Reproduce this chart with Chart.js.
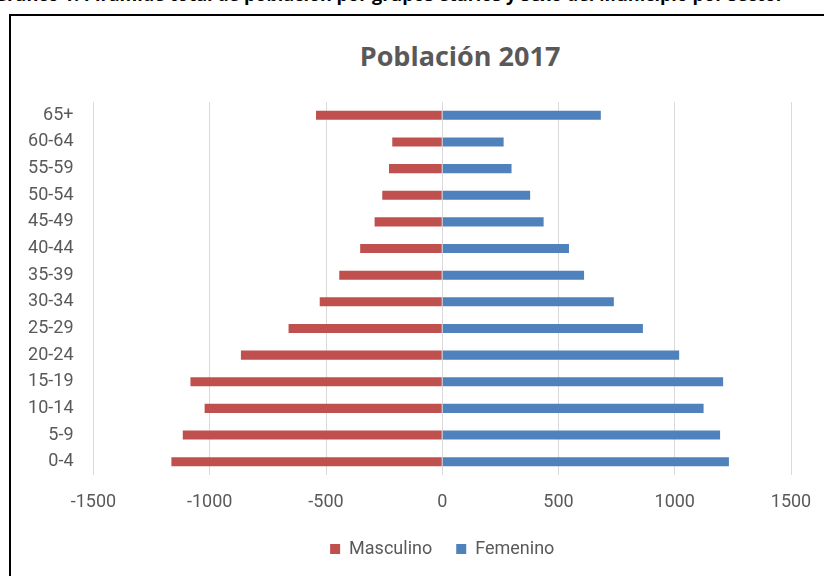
<!DOCTYPE html>
<html>
<head>
<meta charset="utf-8">
<script src="https://cdn.jsdelivr.net/npm/chart.js@4/dist/chart.umd.min.js"></script>
<style>
  html, body { margin: 0; padding: 0; background: #fff; overflow: hidden; }
  #wrap { position: relative; width: 824px; height: 576px; overflow: hidden; }
  #frame { position: absolute; left: 9px; top: 14px; width: 900px; height: 700px; border: 2px solid #000; box-sizing: border-box; }
  #caption { position: absolute; left: -6px; top: -16px; white-space: nowrap; font: bold 18px/20px "Open Sans", sans-serif; color: #000; }
  #title { position: absolute; left: 260px; width: 400px; top: 40px; text-align: center; font: bold 27px/32px "Open Sans", sans-serif; color: #595959; }
  canvas { position: absolute; left: 0; top: 0; }
</style>
</head>
<body>
<div id="wrap">
  <div id="caption">Gráfico 1. Pirámide total de población por grupos etarios y sexo del Municipio por sector</div>
  <div id="frame"></div>
  <div id="title">Población 2017</div>
  <canvas id="c" width="824" height="576"></canvas>
</div>
<script>
const ageGroups = ["0-4","5-9","10-14","15-19","20-24","25-29","30-34","35-39","40-44","45-49","50-54","55-59","60-64","65+"];
const masculino = [-1165,-1116,-1022,-1083,-866,-661,-527,-443,-353,-291,-258,-229,-215,-543];
const femenino  = [1233,1195,1124,1208,1019,863,738,610,545,436,378,298,264,682];
const xMin = -1500, xMax = 1500, xStep = 500;

const gray = '#595959';
const tickFont = { family: 'Roboto, "Open Sans", sans-serif', size: 18 };

new Chart(document.getElementById('c'), {
  type: 'bar',
  data: {
    labels: ageGroups,
    datasets: [
      { label: 'Masculino', data: masculino, backgroundColor: '#C0504D', borderWidth: 0,
        barPercentage: 0.34, categoryPercentage: 1 },
      { label: 'Femenino', data: femenino, backgroundColor: '#4F81BD', borderWidth: 0,
        barPercentage: 0.34, categoryPercentage: 1 }
    ]
  },
  options: {
    indexAxis: 'y',
    responsive: false,
    animation: false,
    devicePixelRatio: 1,
    layout: { padding: { left: 0, right: 33, top: 102, bottom: 8 } },
    scales: {
      x: {
        stacked: true,
        min: xMin, max: xMax,
        ticks: { stepSize: xStep, color: gray, font: tickFont, padding: 17,
                 callback: v => String(v) },
        grid: { color: '#d9d9d9', lineWidth: 1, drawTicks: false },
        border: { display: false },
        afterFit: s => { s.height = 41; s.paddingLeft = 20; s.paddingRight = 20; }
      },
      y: {
        stacked: true,
        reverse: true,
        ticks: { color: gray, font: tickFont, padding: 20 },
        grid: { display: false, drawTicks: false },
        border: { display: false },
        afterFit: s => { s.width = 93.5; }
      }
    },
    plugins: {
      legend: {
        position: 'bottom',
        fullSize: false,
        labels: { boxWidth: 10, boxHeight: 10, padding: 24, color: gray, font: tickFont }
      },
      tooltip: { enabled: false },
      title: { display: false }
    }
  }
});
</script>
</body>
</html>
